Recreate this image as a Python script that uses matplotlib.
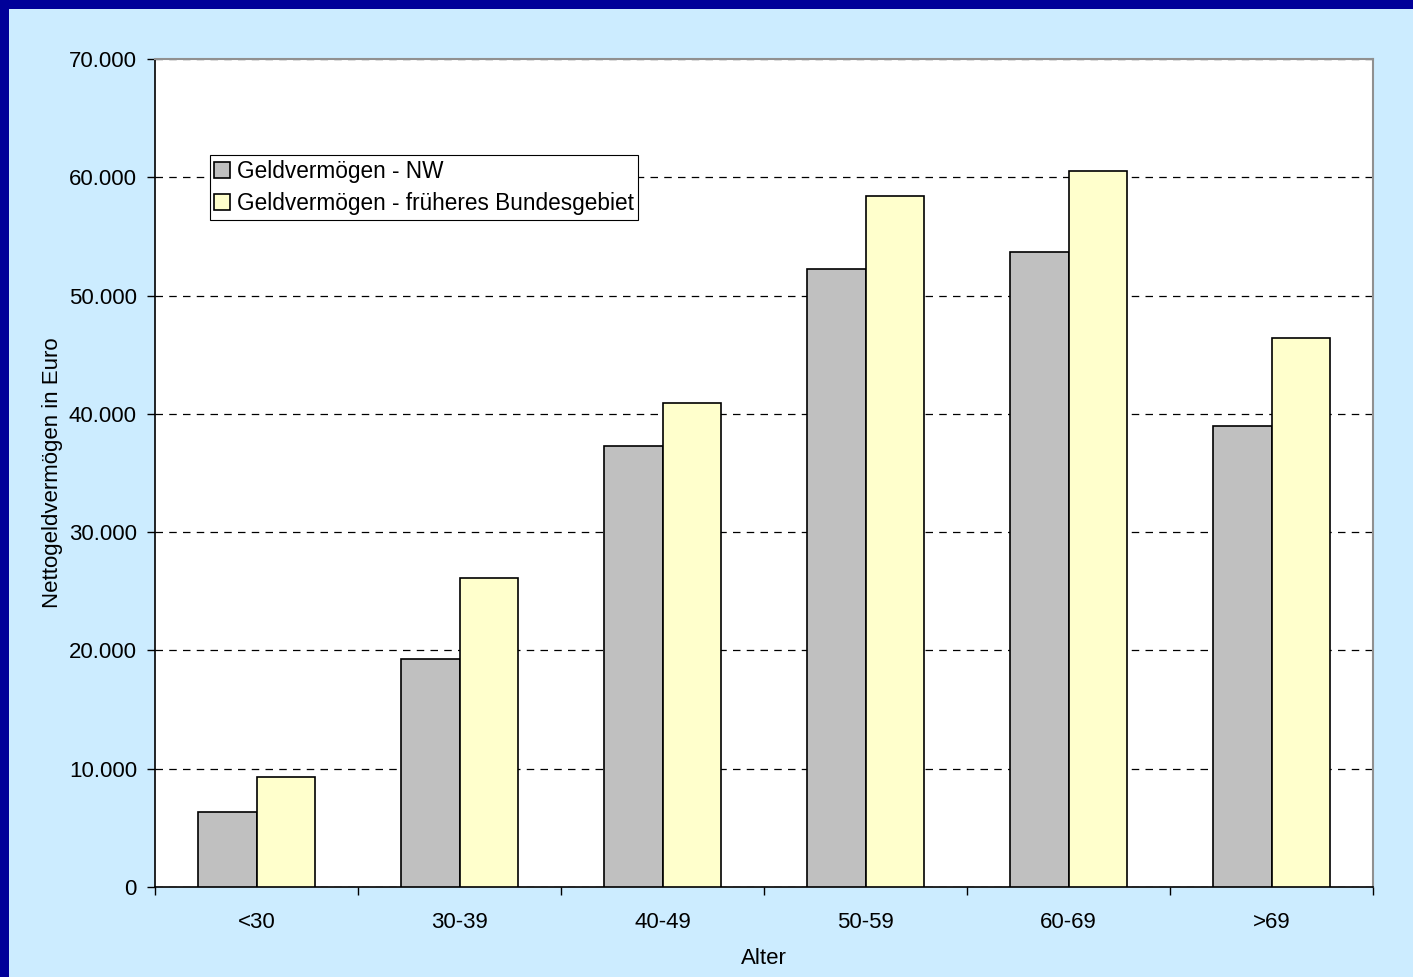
import matplotlib
matplotlib.use("Agg")
import matplotlib.pyplot as plt
import matplotlib.patches as mpatches
from matplotlib.ticker import FuncFormatter, FixedLocator
import numpy as np

plt.rcParams['font.family'] = ['Liberation Sans', 'DejaVu Sans']

categories = ["<30", "30-39", "40-49", "50-59", "60-69", ">69"]
nw_values = [6350, 19300, 37300, 52250, 53650, 38950]
bund_values = [9300, 26100, 40900, 58450, 60550, 46450]
series_labels = ["Geldvermögen - NW", "Geldvermögen - früheres Bundesgebiet"]
y_ticks = [0, 10000, 20000, 30000, 40000, 50000, 60000, 70000]

bg = "#CCECFF"
border = "#000099"
fs = 16

fig = plt.figure(figsize=(14.13, 9.77), dpi=100)
fig.patch.set_facecolor(bg)

# dark frame along top and left edges
fig.add_artist(mpatches.Rectangle((0, 1 - 9 / 977), 1, 9 / 977, transform=fig.transFigure,
                                  facecolor=border, edgecolor="none", zorder=10))
fig.add_artist(mpatches.Rectangle((0, 0), 9 / 1413, 1, transform=fig.transFigure,
                                  facecolor=border, edgecolor="none", zorder=10))

ax = fig.add_axes([155 / 1413, 1 - 887 / 977, 1218 / 1413, 828 / 977])
ax.set_facecolor("white")

x = np.arange(len(categories))
w = 0.286
ax.bar(x - w / 2, nw_values, width=w, color="#C0C0C0", edgecolor="black",
       linewidth=1.2, zorder=3, label=series_labels[0])
ax.bar(x + w / 2, bund_values, width=w, color="#FFFFCC", edgecolor="black",
       linewidth=1.2, zorder=3, label=series_labels[1])

ax.set_xlim(-0.5, len(categories) - 0.5)
ax.set_ylim(0, 70000)
ax.yaxis.set_major_locator(FixedLocator(y_ticks))
ax.yaxis.set_major_formatter(FuncFormatter(lambda v, p: f"{int(v):,}".replace(",", ".")))
ax.yaxis.grid(True, linestyle=(0, (6, 5)), color="black", linewidth=0.9, zorder=1)
ax.set_axisbelow(True)

# category labels centred, ticks at category boundaries
ax.set_xticks(x)
ax.set_xticklabels(categories)
ax.tick_params(axis="x", which="major", length=0, pad=18, labelsize=fs)
ax.set_xticks(np.arange(-0.5, len(categories), 1), minor=True)
ax.tick_params(axis="x", which="minor", length=6, width=1, direction="out")
ax.tick_params(axis="y", length=6, width=1, direction="out", labelsize=fs, pad=7)

for s in ["top", "right"]:
    ax.spines[s].set_color("#909090")
    ax.spines[s].set_linewidth(1.5)
for s in ["left", "bottom"]:
    ax.spines[s].set_color("black")
    ax.spines[s].set_linewidth(1.2)

ax.set_xlabel("Alter", fontsize=fs, labelpad=11)
ax.set_ylabel("Nettogeldvermögen in Euro", fontsize=fs, labelpad=4)

leg = ax.legend(loc="upper left", bbox_to_anchor=(0.045, 0.884), fontsize=16.3,
                frameon=True, fancybox=False, edgecolor="black", framealpha=1,
                handlelength=0.7, handleheight=0.7, handletextpad=0.3,
                borderpad=0.2, labelspacing=0.42, borderaxespad=0)
leg.get_frame().set_linewidth(0.8)
leg.set_zorder(5)

fig.savefig("out.png", dpi=100, facecolor=bg)
